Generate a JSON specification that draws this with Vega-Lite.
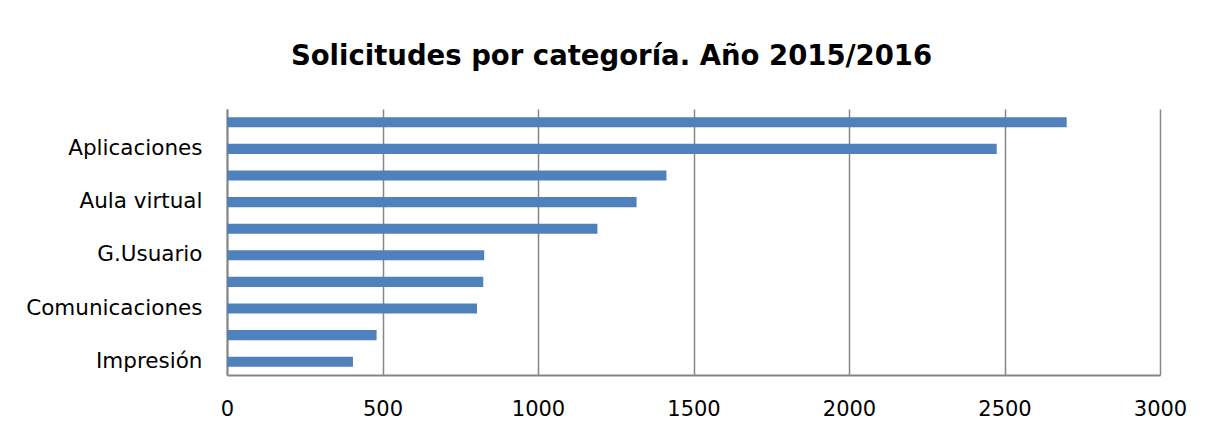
{
  "$schema": "https://vega.github.io/schema/vega-lite/v6.json",
  "width": 933,
  "height": 266,
  "autosize": {"type": "none"},
  "padding": {"left": 227, "top": 109, "right": 45, "bottom": 59},
  "background": "white",
  "title": {
    "text": "Solicitudes por categoría. Año 2015/2016",
    "font": "DejaVu Sans",
    "fontSize": 27.5,
    "fontWeight": "bold",
    "color": "#000000",
    "anchor": "middle",
    "frame": "group",
    "baseline": "alphabetic",
    "offset": 17,
    "dx": -82
  },
  "data": {
    "values": [
      {"categoria": "Correo", "solicitudes": 2700},
      {"categoria": "Aplicaciones", "solicitudes": 2475},
      {"categoria": "Cuentas", "solicitudes": 1413},
      {"categoria": "Aula virtual", "solicitudes": 1317},
      {"categoria": "Software", "solicitudes": 1191},
      {"categoria": "G.Usuario", "solicitudes": 827},
      {"categoria": "Hardware", "solicitudes": 824},
      {"categoria": "Comunicaciones", "solicitudes": 804},
      {"categoria": "Red", "solicitudes": 481},
      {"categoria": "Impresión", "solicitudes": 405}
    ]
  },
  "mark": {"type": "bar", "color": "#4F81BD"},
  "encoding": {
    "y": {
      "field": "categoria",
      "type": "nominal",
      "sort": null,
      "title": null,
      "scale": {"paddingInner": 0.62, "paddingOuter": 0.31},
      "axis": {
        "labelExpr": "indexof(['Aplicaciones','Aula virtual','G.Usuario','Comunicaciones','Impresión'], datum.label) >= 0 ? datum.label : ''",
        "labelFont": "DejaVu Sans",
        "labelFontSize": 21.5,
        "labelColor": "#000000",
        "labelPadding": 25,
        "ticks": false,
        "domainColor": "#868686",
        "domainWidth": 2,
        "grid": false,
        "labelLimit": 400
      }
    },
    "x": {
      "field": "solicitudes",
      "type": "quantitative",
      "title": null,
      "scale": {"domain": [0, 3000], "nice": false},
      "axis": {
        "values": [0, 500, 1000, 1500, 2000, 2500, 3000],
        "format": "d",
        "labelFont": "DejaVu Sans",
        "labelFontSize": 21,
        "labelColor": "#000000",
        "labelPadding": 23,
        "ticks": false,
        "domainColor": "#868686",
        "domainWidth": 2,
        "grid": true,
        "gridColor": "#868686",
        "gridWidth": 1.5,
        "labelFlush": false
      }
    }
  },
  "config": {"view": {"stroke": null}}
}
